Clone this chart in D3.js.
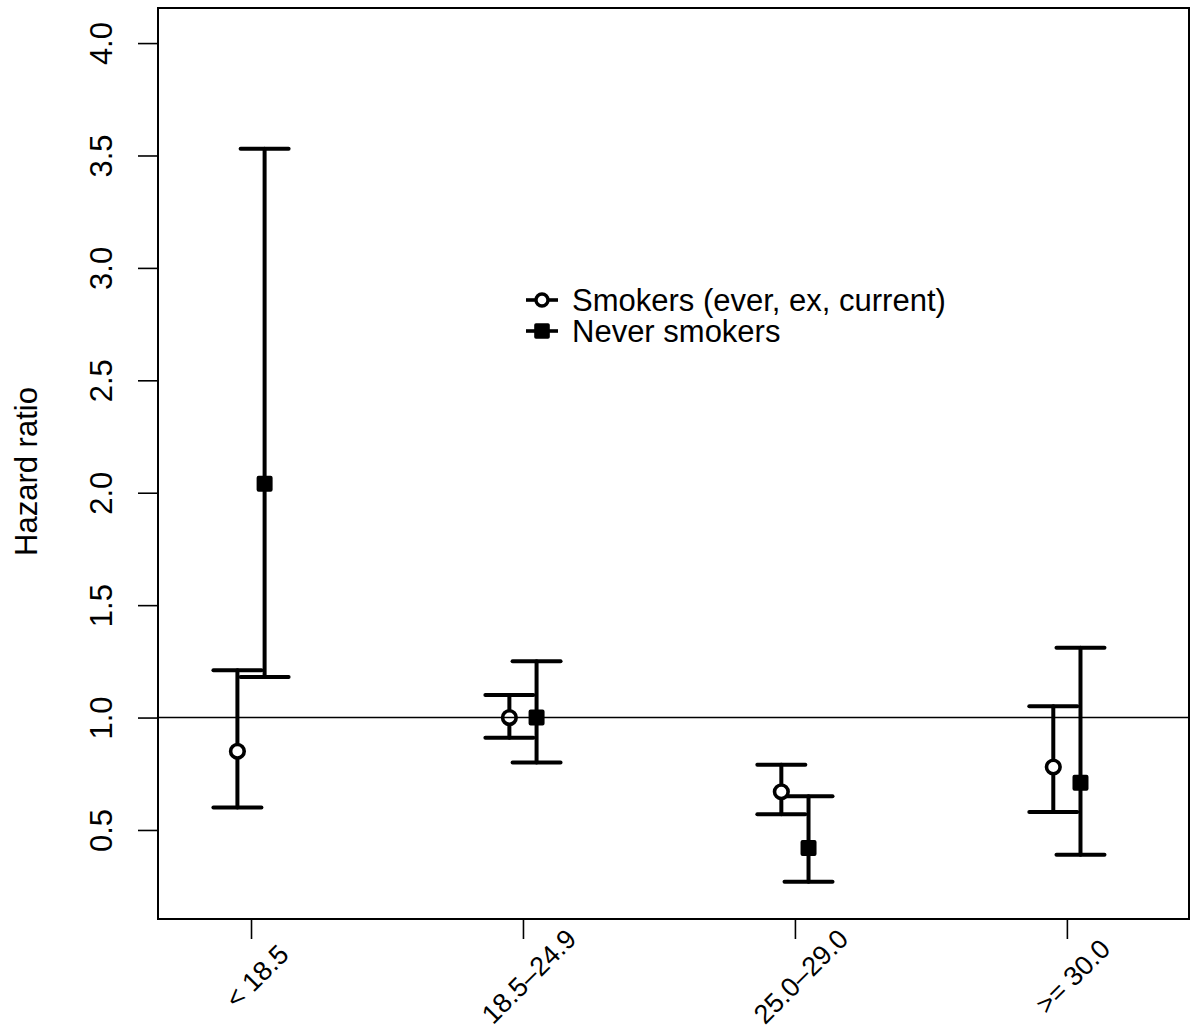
<!DOCTYPE html>
<html>
<head>
<meta charset="utf-8">
<script src="https://cdn.jsdelivr.net/npm/d3@7"></script>
<style>
  body { margin: 0; background: #fff; }
  svg { display: block; font-family: "Liberation Sans", Arial, Helvetica, sans-serif; }
</style>
</head>
<body>
<div id="chart"></div>
<script>
// BMI groups on the x axis
const categories = ["< 18.5", "18.5\u201324.9", "25.0\u201329.0", ">= 30.0"];
const yTicks = [0.5, 1.0, 1.5, 2.0, 2.5, 3.0, 3.5, 4.0];

// hazard ratios with lower / upper confidence limits
const smokersHR    = [0.85, 1.00, 0.67, 0.78];
const smokersLower = [0.60, 0.91, 0.57, 0.58];
const smokersUpper = [1.21, 1.10, 0.79, 1.05];

const neverHR    = [2.04, 1.00, 0.42, 0.71];
const neverLower = [1.18, 0.80, 0.27, 0.39];
const neverUpper = [3.53, 1.25, 0.65, 1.31];

const seriesNames = ["Smokers (ever, ex, current)", "Never smokers"];

const width = 1191, height = 1029;
const box = { left: 158, right: 1189, top: 8, bottom: 919 };

const svg = d3.select('#chart').append('svg')
    .attr('width', width)
    .attr('height', height);

// scales (x in category index units, 1..4)
const x = d3.scaleLinear().domain([0.658, 4.449]).range([box.left, box.right]);
const y = d3.scaleLinear().domain([0.104, 4.156]).range([box.bottom, box.top]);

const offset = 0.05;
const capHalf = 24;

const series = [
    { name: seriesNames[0], hr: smokersHR, lo: smokersLower, hi: smokersUpper, dx: -offset, open: true },
    { name: seriesNames[1], hr: neverHR, lo: neverLower, hi: neverUpper, dx: offset, open: false }
];

// y axis
const yAxis = svg.append('g')
    .attr('transform', `translate(${box.left},0)`)
    .call(d3.axisLeft(y).tickValues(yTicks).tickSize(20).tickFormat(d3.format('.1f')));
yAxis.select('.domain').remove();
yAxis.selectAll('line').attr('stroke', '#000').attr('stroke-width', 1.6);
yAxis.selectAll('text')
    .attr('x', 0).attr('y', -46).attr('dy', 0)
    .attr('transform', 'rotate(-90)')
    .attr('text-anchor', 'middle')
    .style('font-size', '31px')
    .attr('fill', '#000');

// x axis
const xAxis = svg.append('g')
    .attr('transform', `translate(0,${box.bottom})`)
    .call(d3.axisBottom(x).tickValues([1, 2, 3, 4]).tickSize(20).tickFormat((d) => categories[d - 1]));
xAxis.select('.domain').remove();
xAxis.selectAll('line').attr('stroke', '#000').attr('stroke-width', 1.6);
xAxis.selectAll('text')
    .attr('x', 0).attr('y', 0).attr('dy', 0)
    .attr('transform', 'translate(12,64) rotate(-45)')
    .attr('text-anchor', 'middle')
    .style('font-size', '27px')
    .attr('fill', '#000');

// y label
svg.append('text')
    .attr('transform', `translate(37,${(box.top + box.bottom) / 2 + 8}) rotate(-90)`)
    .attr('text-anchor', 'middle')
    .style('font-size', '31px')
    .text('Hazard ratio');

// error bars
const idx = d3.range(categories.length);
series.forEach((s) => {
    const g = svg.append('g')
        .attr('stroke', '#000')
        .attr('stroke-width', 4)
        .attr('stroke-linecap', 'round');

    g.selectAll('.stem').data(idx).enter().append('line')
        .attr('x1', (i) => x(i + 1 + s.dx)).attr('x2', (i) => x(i + 1 + s.dx))
        .attr('y1', (i) => y(s.lo[i])).attr('y2', (i) => y(s.hi[i]));

    g.selectAll('.capLo').data(idx).enter().append('line')
        .attr('x1', (i) => x(i + 1 + s.dx) - capHalf).attr('x2', (i) => x(i + 1 + s.dx) + capHalf)
        .attr('y1', (i) => y(s.lo[i])).attr('y2', (i) => y(s.lo[i]));

    g.selectAll('.capHi').data(idx).enter().append('line')
        .attr('x1', (i) => x(i + 1 + s.dx) - capHalf).attr('x2', (i) => x(i + 1 + s.dx) + capHalf)
        .attr('y1', (i) => y(s.hi[i])).attr('y2', (i) => y(s.hi[i]));
});

// points
series.forEach((s) => {
    if (s.open) {
        svg.append('g').selectAll('circle').data(idx).enter().append('circle')
            .attr('cx', (i) => x(i + 1 + s.dx))
            .attr('cy', (i) => y(s.hr[i]))
            .attr('r', 6.8)
            .attr('fill', '#fff')
            .attr('stroke', '#000')
            .attr('stroke-width', 3.6);
    } else {
        svg.append('g').selectAll('rect').data(idx).enter().append('rect')
            .attr('x', (i) => x(i + 1 + s.dx) - 6)
            .attr('y', (i) => y(s.hr[i]) - 6)
            .attr('width', 12).attr('height', 12)
            .attr('fill', '#000')
            .attr('stroke', '#000')
            .attr('stroke-width', 4)
            .attr('stroke-linejoin', 'round');
    }
});

// reference line at HR = 1
svg.append('line')
    .attr('x1', box.left).attr('x2', box.right)
    .attr('y1', y(1)).attr('y2', y(1))
    .attr('stroke', '#000')
    .attr('stroke-width', 1.6);

// plot box
svg.append('rect')
    .attr('x', box.left).attr('y', box.top)
    .attr('width', box.right - box.left).attr('height', box.bottom - box.top)
    .attr('fill', 'none')
    .attr('stroke', '#000')
    .attr('stroke-width', 2);

// legend
const legend = svg.append('g').attr('transform', 'translate(526,300)');
series.forEach((s, i) => {
    const row = legend.append('g').attr('transform', `translate(0,${i * 31})`);
    row.append('line')
        .attr('x1', 0).attr('x2', 32).attr('y1', 0).attr('y2', 0)
        .attr('stroke', '#000').attr('stroke-width', 3.6);
    if (s.open) {
        row.append('circle').attr('cx', 16).attr('cy', 0).attr('r', 6)
            .attr('fill', '#fff').attr('stroke', '#000').attr('stroke-width', 3.4);
    } else {
        row.append('rect').attr('x', 10).attr('y', -6).attr('width', 12).attr('height', 12)
            .attr('fill', '#000').attr('stroke', '#000').attr('stroke-width', 3.6)
            .attr('stroke-linejoin', 'round');
    }
    row.append('text')
        .attr('x', 46).attr('y', 0).attr('dy', '0.36em')
        .style('font-size', '31px')
        .text(s.name);
});
</script>
</body>
</html>
